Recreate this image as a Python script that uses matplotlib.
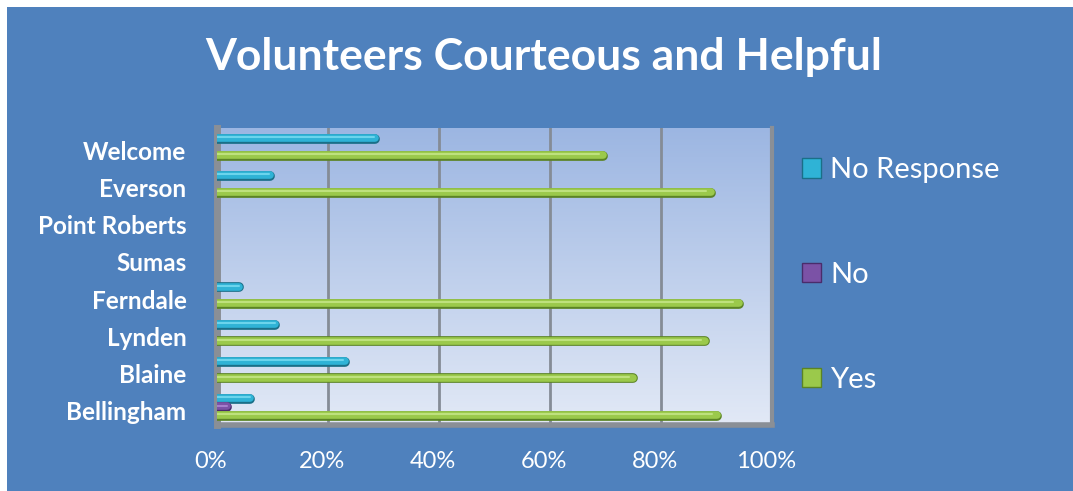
import matplotlib
matplotlib.use('Agg')
import matplotlib.pyplot as plt
import matplotlib.transforms as mtransforms
import numpy as np
from matplotlib.patches import Rectangle
from matplotlib.colors import LinearSegmentedColormap

plt.rcParams['font.family'] = ['Lato', 'DejaVu Sans']

# data (bottom to top)
towns = ['Bellingham', 'Blaine', 'Lynden', 'Ferndale', 'Sumas', 'Point Roberts', 'Everson', 'Welcome']
yes = [90, 75, 88, 94, 0, 0, 89, 69.5]
no = [1.8, 0, 0, 0, 0, 0, 0, 0]
no_response = [6, 23, 10.5, 4, 0, 0, 9.5, 28.5]
xticks = [0, 20, 40, 60, 80, 100]

bg = '#4F81BD'
fig = plt.figure(figsize=(10.73, 4.91), dpi=100)
fig.patch.set_facecolor('white')
fig.patches.append(Rectangle((7 / 1073, 0), 1, 1 - 7 / 491, transform=fig.transFigure,
                             facecolor=bg, edgecolor='none', zorder=-10))

ax = fig.add_axes([217 / 1073, 66 / 491, 555 / 1073, 297 / 491])
ax.set_xlim(0, 100)
ax.set_ylim(-0.5, len(towns) - 0.5)

# gradient wall
grad = np.linspace(0, 1, 256).reshape(-1, 1)
cmap = LinearSegmentedColormap.from_list('wall', ['#E2E9F6', '#9CB6E2'])
ax.imshow(grad, aspect='auto', cmap=cmap, origin='lower',
          extent=[0, 100, -0.5, len(towns) - 0.5], zorder=0)

for x in xticks[1:-1]:
    ax.axvline(x, color='#858C96', lw=2, zorder=1)

y = np.arange(len(towns))
step = 8.3 / 37
series = [(no_response, y + step, '#2FB3D6', '#1A6F88', '#7BDDF2'),
          (no, y, '#7B52A6', '#4A2C6B', '#B08AD6'),
          (yes, y - step, '#9BC94B', '#5B8424', '#C8E88A')]
for vals, yy, c, dark, light in series:
    vals = np.array(vals, dtype=float)
    ax.hlines(yy - 0.02, 0, vals, colors=dark, lw=7, capstyle='round', zorder=3)
    ax.hlines(yy, 0, vals, colors=c, lw=5.5, capstyle='round', zorder=4)
    ax.hlines(yy + 0.025, 0, vals * 0.99, colors=light, lw=1.5, capstyle='round', zorder=5, alpha=0.8)

for s in ['top', 'right']:
    ax.spines[s].set_visible(False)
ax.spines['left'].set_color('#8A8F96')
ax.spines['left'].set_linewidth(5)
ax.spines['bottom'].set_color('#8A8F96')
ax.spines['bottom'].set_linewidth(4)
ax.plot([100, 100], [-0.5, len(towns) - 0.5], color='#8A8F96', lw=3, clip_on=False, zorder=6)

ax.set_xticks(xticks)
ax.set_xticklabels([f'{t}%' for t in xticks], color='white', fontsize=17)
ax.set_yticks(y)
ax.set_yticklabels(towns, color='white', fontsize=17.5, fontweight='bold')
ax.tick_params(length=0)
ax.tick_params(axis='x', pad=19)
ax.tick_params(axis='y', pad=22)

# shift labels like the 3D projection in the original
dx = mtransforms.ScaledTranslation(-6 / 100, 0, fig.dpi_scale_trans)
for lab in ax.get_xticklabels():
    lab.set_transform(lab.get_transform() + dx)
dy = mtransforms.ScaledTranslation(0, -4 / 100, fig.dpi_scale_trans)
for lab in ax.get_yticklabels():
    lab.set_transform(lab.get_transform() + dy)

fig.text(544 / 1073, 1 - 57 / 491, 'Volunteers Courteous and Helpful', color='white',
         fontsize=32, fontweight='bold', ha='center', va='center')

handles = [Rectangle((0, 0), 1, 1, facecolor=c, edgecolor=d) for c, d in
           [('#2FB3D6', '#1A6F88'), ('#7B52A6', '#4A2C6B'), ('#9BC94B', '#5B8424')]]
leg = fig.legend(handles, ['No Response', 'No', 'Yes'], loc='upper left',
                 bbox_to_anchor=(776 / 1073, 1 - 131 / 491), frameon=False,
                 fontsize=21, labelcolor='white', labelspacing=2.7,
                 handlelength=0.65, handleheight=0.65, handletextpad=0.3)

fig.savefig('out.png', dpi=100, facecolor=fig.get_facecolor())
